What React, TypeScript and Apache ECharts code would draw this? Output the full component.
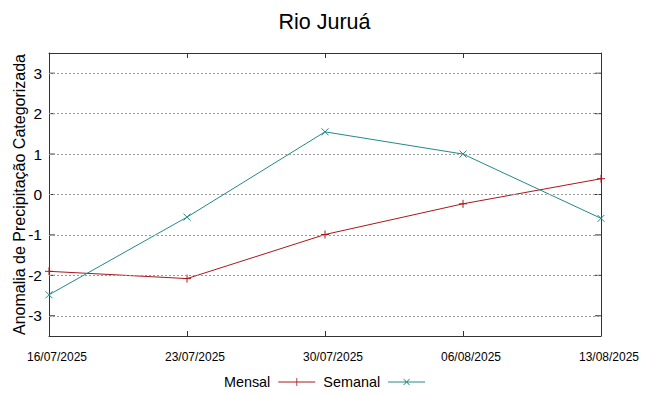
import React, { useEffect, useRef } from "react";
import * as echarts from "echarts";

const title = "Rio Juruá";
const yName = "Anomalia de Precipitação Categorizada";
const categories = ["16/07/2025", "23/07/2025", "30/07/2025", "06/08/2025", "13/08/2025"];
const mensal = [-1.9, -2.08, -0.99, -0.23, 0.39];
const semanal = [-2.48, -0.56, 1.55, 1.0, -0.59];
const yTicks = [-3, -2, -1, 0, 1, 2, 3];

const RED = "#a8181c";
const TEAL = "#23898b";
const AXIS = "#333333";
const FONT = "Liberation Sans";

export default function App() {
  const ref = useRef<HTMLDivElement>(null);
  useEffect(() => {
    if (!ref.current) return;
    const chart = echarts.init(ref.current, undefined, { renderer: "svg" });
    const plusPath = "path://M0,5L10,5M5,0L5,10";
    const crossPath = "path://M0,0L10,10M10,0L0,10";
    chart.setOption({
      animation: false,
      title: {
        text: title,
        left: "center",
        top: 6,
        textStyle: { fontFamily: FONT, fontSize: 21.5, fontWeight: "normal", color: "#000" },
      },
      legend: {
        bottom: 2,
        left: "center",
        align: "right",
        itemWidth: 37,
        itemHeight: 10,
        itemGap: 8,
        textStyle: { fontFamily: FONT, fontSize: 14.4, color: "#000", padding: [0, 3, 0, 0] },
        data: [
          {
            name: "Mensal",
            icon: "path://M0,4.6H37V5.4H0Z M18.1,1H18.9V9H18.1Z",
            itemStyle: { color: RED, borderWidth: 0 },
          },
          {
            name: "Semanal",
            icon: "path://M0,4.6H37V5.4H0Z M15.2,2.3L15.8,1.7L21.8,7.7L21.2,8.3Z M21.2,1.7L21.8,2.3L15.8,8.3L15.2,7.7Z",
            itemStyle: { color: TEAL, borderWidth: 0 },
          },
        ],
      },
      grid: { left: 49, right: 48, top: 53, bottom: 60, containLabel: false, outerBoundsMode: "none" },
      xAxis: [
        {
          type: "category",
          data: categories,
          boundaryGap: false,
          axisLine: { show: true, onZero: false, lineStyle: { color: AXIS, width: 1 } },
          axisTick: { show: true, inside: true, length: 5, lineStyle: { color: AXIS } },
          axisLabel: {
            fontFamily: FONT,
            fontSize: 12,
            color: "#000",
            margin: 15,
            padding: [0, 0, 0, 16],
            showMinLabel: true,
            showMaxLabel: true,
          },
          splitLine: { show: false },
        },
        {
          type: "category",
          data: categories,
          position: "top",
          boundaryGap: false,
          axisLine: { show: true, onZero: false, lineStyle: { color: AXIS, width: 1 } },
          axisTick: { show: true, inside: true, length: 5, lineStyle: { color: AXIS } },
          axisLabel: { show: false },
          splitLine: { show: false },
        },
      ],
      yAxis: [
        {
          type: "value",
          min: -3.5,
          max: 3.5,
          interval: 0.5,
          name: yName,
          nameLocation: "middle",
          nameGap: 22,
          nameMoveOverlap: false,
          nameTextStyle: { fontFamily: FONT, fontSize: 16, color: "#000" },
          axisLine: { show: true, lineStyle: { color: AXIS, width: 1 } },
          axisTick: { show: false },
          axisLabel: {
            fontFamily: FONT,
            fontSize: 15.5,
            color: "#000",
            margin: 7,
            formatter: (v: number) => (yTicks.includes(v) ? String(v) : ""),
          },
          splitLine: { show: false },
        },
        {
          type: "value",
          min: -3.5,
          max: 3.5,
          position: "right",
          axisLine: { show: true, lineStyle: { color: AXIS, width: 1 } },
          axisTick: { show: false },
          axisLabel: { show: false },
          splitLine: { show: false },
        },
      ],
      series: [
        {
          name: "grid",
          type: "line",
          data: [],
          silent: true,
          markLine: {
            silent: true,
            symbol: "none",
            label: { show: false },
            lineStyle: { color: "#9a9a9a", type: [2, 2], width: 1 },
            data: yTicks.map((t) => ({ yAxis: t })),
          },
        },
        {
          name: "ticks",
          type: "custom",
          silent: true,
          data: yTicks.map((t) => [t]),
          renderItem: (params: any, api: any) => {
            const v = api.value(0);
            const p = api.coord([0, v]);
            const cs = params.coordSys;
            return {
              type: "group",
              children: [
                { type: "line", shape: { x1: cs.x, y1: p[1], x2: cs.x + 6, y2: p[1] }, style: { stroke: AXIS, lineWidth: 1 } },
                { type: "line", shape: { x1: cs.x + cs.width - 6, y1: p[1], x2: cs.x + cs.width, y2: p[1] }, style: { stroke: AXIS, lineWidth: 1 } },
              ],
            };
          },
        },
        {
          name: "Mensal",
          type: "line",
          data: mensal,
          symbol: plusPath,
          symbolSize: 8,
          showAllSymbol: true,
          lineStyle: { color: RED, width: 1 },
          itemStyle: { color: RED, borderColor: RED, borderWidth: 1 },
          z: 3,
        },
        {
          name: "Semanal",
          type: "line",
          data: semanal,
          symbol: crossPath,
          symbolSize: 7,
          showAllSymbol: true,
          lineStyle: { color: TEAL, width: 1 },
          itemStyle: { color: TEAL, borderColor: TEAL, borderWidth: 1 },
          z: 4,
        },
      ],
    });
    return () => chart.dispose();
  }, []);
  return <div ref={ref} style={{ width: 649, height: 396, position: "absolute", left: 0, top: 0 }} />;
}
